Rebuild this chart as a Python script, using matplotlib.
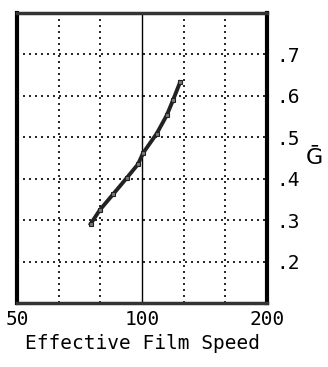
import matplotlib
matplotlib.use("Agg")
import matplotlib.pyplot as plt
import numpy as np

# Data
film_speed = [75.2, 79.2, 85.1, 91.9, 97.8, 100.6, 108.5, 114.7, 118.8, 123.5]
g_bar = [0.291, 0.325, 0.362, 0.402, 0.435, 0.462, 0.509, 0.553, 0.590, 0.633]

x_ticks = [50, 100, 200]
x_tick_labels = ["50", "100", "200"]
y_ticks = [0.2, 0.3, 0.4, 0.5, 0.6, 0.7]
y_tick_labels = [".2", ".3", ".4", ".5", ".6", ".7"]
x_grid_dotted = [63.0, 79.4, 126.0, 158.7]
x_grid_solid = [100]

fig = plt.figure(figsize=(3.28, 3.67), dpi=100)
ax = fig.add_axes([0.052, 0.1744, 0.762, 0.7902])

ax.set_xscale("log")
ax.set_xlim(50, 200)
ax.set_ylim(0.1, 0.8)

dot = (0, (1.2, 2.4))
for yv in y_ticks:
    ax.axhline(yv, color="black", lw=1.2, ls=dot, zorder=1)
for xv in x_grid_dotted:
    ax.axvline(xv, color="black", lw=1.2, ls=dot, zorder=1)
for xv in x_grid_solid:
    ax.axvline(xv, color="black", lw=1.0, zorder=1)

ax.plot(film_speed, g_bar, color="#222222", lw=2.8, zorder=3,
        marker="s", ms=3, mfc="#777777", mec="#222222", mew=0.8)

for side, sp in ax.spines.items():
    sp.set_linewidth(3 if side in ("left", "right") else 2.5)
    sp.set_color("black" if side in ("left", "right") else "#333333")

mono = "DejaVu Sans Mono"
ax.xaxis.set_minor_locator(matplotlib.ticker.NullLocator())
ax.set_xticks(x_ticks)
ax.set_xticklabels(x_tick_labels, family=mono, fontsize=14)
ax.xaxis.set_minor_locator(matplotlib.ticker.NullLocator())
ax.tick_params(axis="x", length=0, pad=5)

ax.yaxis.tick_right()
ax.set_yticks(y_ticks)
ax.set_yticklabels(y_tick_labels, family=mono, fontsize=14)
ax.tick_params(axis="y", length=0, pad=7)

ax.set_xlabel("Effective Film Speed", family=mono, fontsize=14, labelpad=4)
ax.yaxis.set_label_position("right")
ax.set_ylabel("Ḡ", family="DejaVu Sans", fontsize=16, rotation=0,
              labelpad=10, va="center")

fig.savefig("out.png", dpi=100)
